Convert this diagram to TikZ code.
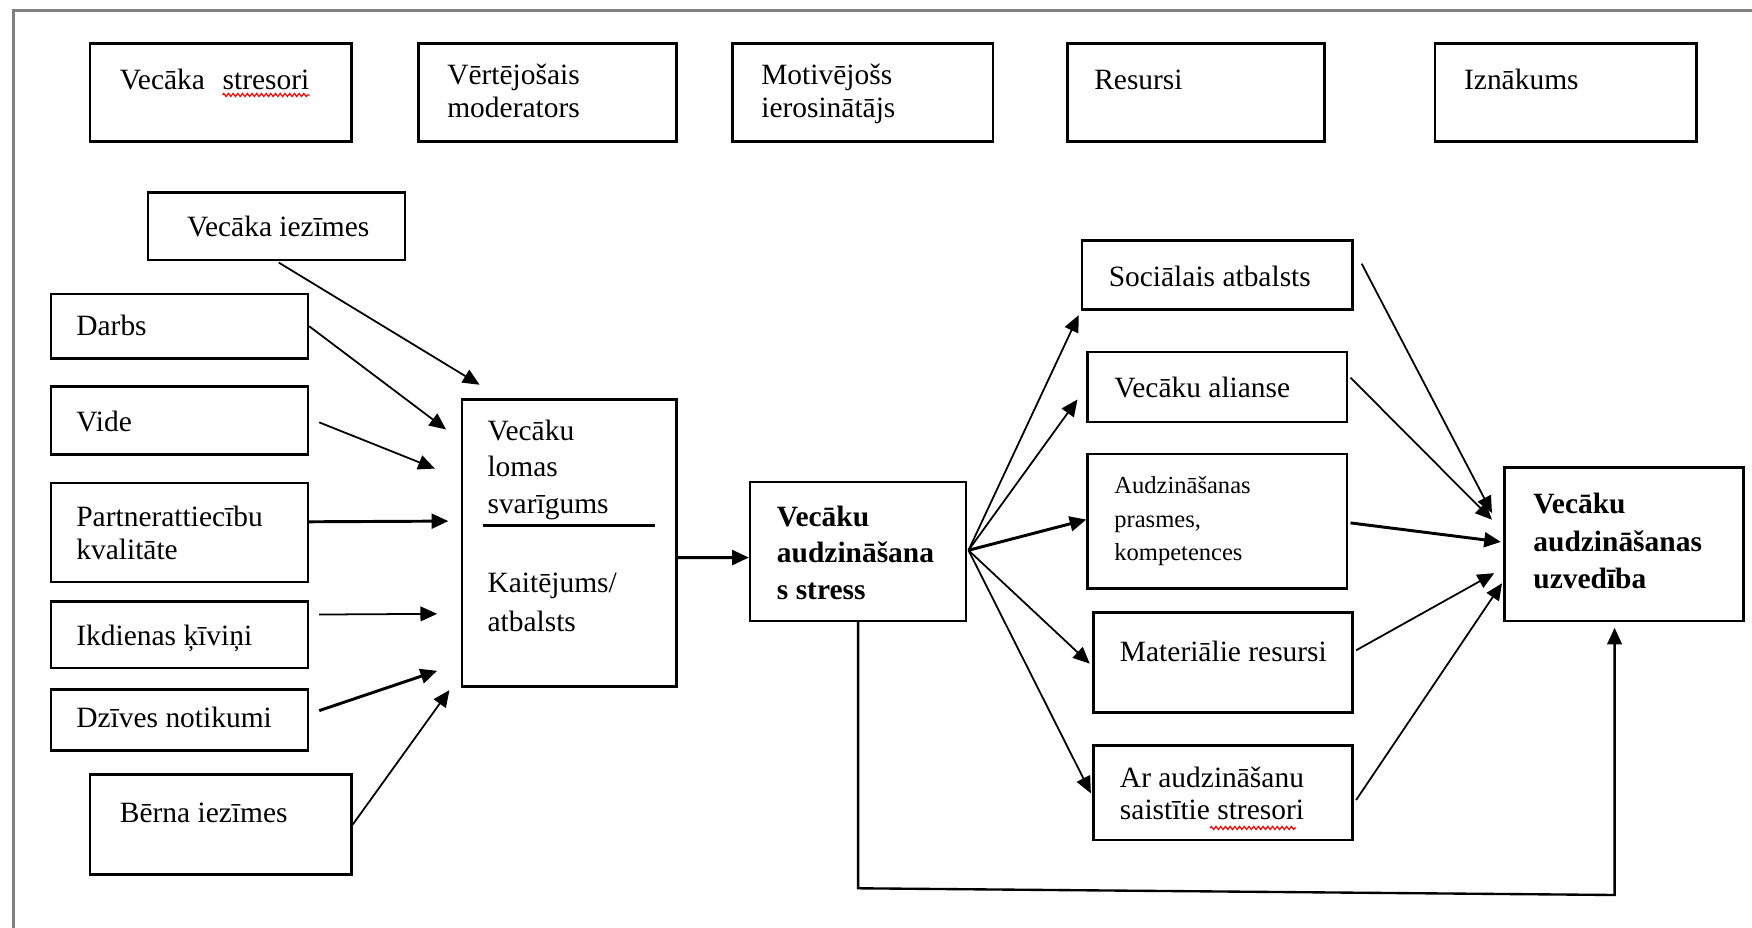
\documentclass[tikz,border=0pt]{standalone}
\usepackage{fontspec}
\setmainfont{Liberation Serif}
\usetikzlibrary{arrows.meta,calc,decorations.pathmorphing}
\newcommand\mlines[3][15pt]{{\fontsize{#1}{#2}\selectfont\begin{tabular}[t]{@{}l@{}}#3\end{tabular}}}
\begin{document}
\begin{tikzpicture}[x=0.02cm,y=-0.02cm,
  box/.style n args={4}{draw, line width=1.3pt, inner sep=0pt,
    minimum width={(#3-#1)*0.56693pt}, minimum height={(#4-#2)*0.56693pt},
    at={({(#1+#3)/2},{(#2+#4)/2})}},
  txt/.style={inner sep=0pt, anchor=base west, font=\fontsize{15}{18.7}\selectfont},
  arr/.style={-{Triangle[length=8.5pt,width=7.5pt]}, line width=0.9pt},
  thick arr/.style={arr, line width=1.5pt},
  squig/.style={red, line width=0.6pt, decorate, decoration={zigzag, amplitude=0.8pt, segment length=2.4pt}}
]
\useasboundingbox (0,0) rectangle (1568,830);
\draw[color={rgb,255:red,128;green,128;blue,128}, line width=1.5pt] (12,840) -- (12,9.4) -- (1580,9.4);

% top row
\node[box={80}{39}{315}{127}] (tstr) {};
\node[box={374}{39}{606}{127}] (tmod) {};
\node[box={655}{39}{889}{127}] (tmot) {};
\node[box={955}{39}{1186}{127}] (tres) {};
\node[box={1284}{39}{1519}{127}] (tizn) {};
\node[txt] (ttstr) at (107,80) {Vecāka\hspace{0.6em}stresori};
\node[txt] (ttmod) at (400,76) {\mlines{16.4pt}{Vērtējošais\\moderators}};
\node[txt] (ttmot) at (681,76) {\mlines{16.4pt}{Motivējošs\\ierosinātājs}};
\node[txt] (ttres) at (979,80) {Resursi};
\node[txt] (ttizn) at (1310,80) {Iznākums};
\draw[squig] ($(ttstr.base east)+(-78,5)$) -- ($(ttstr.base east)+(0,5)$);

% left column
\node[box={132}{172}{363}{233}] (piez) {};
\node[box={45}{263}{276}{321}] (darbs) {};
\node[box={45}{346}{276}{407}] (vide) {};
\node[box={45}{432}{276}{521}] (partn) {};
\node[box={45}{538}{276}{598}] (ikd) {};
\node[box={45}{617}{276}{672}] (dziv) {};
\node[box={80}{693}{315}{783}] (bern) {};
\node[txt, anchor=base] (tpiez) at (249,212) {Vecāka iezīmes};
\node[txt] (tdarbs) at (68,300) {Darbs};
\node[txt] (tvide) at (68,386) {Vide};
\node[txt] (tpartn) at (68,471) {\mlines{17pt}{Partnerattiecību\\kvalitāte}};
\node[txt] (tikd) at (68,578) {Ikdienas ķīviņi};
\node[txt] (tdziv) at (68,651) {Dzīves notikumi};
\node[txt] (tbern) at (107,736) {Bērna iezīmes};

% middle
\node[box={413}{357}{606}{615}] (lomas) {};
\node[txt] (tlomas) at (436,394) {\mlines{18.7pt}{Vecāku\\lomas\\svarīgums}};
\draw[line width=1.1pt] ($(lomas.north west)+(20,114)$) coordinate (rl) -- ($(lomas.north east)+(-21,114)$) coordinate (rr);
\node[txt] (tkait) at (436,530) {\mlines{19.8pt}{Kaitējums/\\atbalsts}};
\node[box={671}{431}{865}{556}] (stress) {};
\node[txt] (tstress) at (695,471) {\mlines{18.7pt}{\bfseries Vecāku\\\bfseries audzināšana\\\bfseries s stress}};

% right column
\node[box={968}{215}{1211}{277}] (soc) {};
\node[box={973}{315}{1206}{378}] (ali) {};
\node[box={973}{406}{1206}{527}] (audz) {};
\node[box={978}{548}{1211}{638}] (mat) {};
\node[box={978}{667}{1211}{752}] (ar) {};
\node[box={1346}{418}{1561}{556}] (uzv) {};
\node[txt] (tsoc) at (992,256) {Sociālais atbalsts};
\node[txt] (tali) at (997,356) {Vecāku alianse};
\node[txt] (taudz) at (997,442) {\mlines[12.5pt]{17pt}{Audzināšanas\\prasmes,\\kompetences}};
\node[txt] (tmat) at (1002,592) {Materiālie resursi};
\node[txt] (tar) at (1002,705) {\mlines{16.4pt}{Ar audzināšanu\\saistītie stresori}};
\draw[squig] (1083,741) -- (1160,741);
\node[txt] (tuzv) at (1372,460) {\mlines{18.9pt}{\bfseries Vecāku\\\bfseries audzināšanas\\\bfseries uzvedība}};

% arrows into lomas
\draw[arr] ($(piez.south)+(2,1)$) -- ($(lomas.north west)+(17,-12)$);
\draw[arr] (darbs.east) -- ($(lomas.north west)+(-13,28)$);
\draw[arr] ($(vide.east)+(9,1.5)$) -- ($(lomas.north west)+(-23,63)$);
\draw[thick arr] ($(partn.east)+(0,-9.5)$) -- ($(lomas.north west)+(-11,110)$);
\draw[arr] ($(ikd.east)+(9,-18)$) -- ($(lomas.north west)+(-21,193)$);
\draw[thick arr] ($(dziv.east)+(9,-8.5)$) -- ($(lomas.north west)+(-21,244)$);
\draw[arr] ($(bern.east)$) -- ($(lomas.south west)+(-10,2)$);
\draw[thick arr] ($(lomas.east)+(0,13)$) -- ($(stress.west)+(0,5.5)$);

% fan out of stress
\coordinate (fan) at ($(stress.east)+(1,-1)$);
\draw[arr] (fan) -- ($(soc.south west)+(-2,4)$);
\draw[arr] (fan) -- ($(ali.west)+(-8,11)$);
\draw[thick arr] (fan) -- ($(audz.west)+(0,-1.5)$);
\draw[arr] (fan) -- ($(mat.west)+(-2,1)$);
\draw[arr] (fan) -- ($(ar.west)+(-1,0.5)$);

% into uzv
\draw[arr] ($(soc.east)+(7,-10)$) -- ($(uzv.north west)+(-10,42)$);
\draw[arr] ($(ali.east)+(2,-8.5)$) -- ($(uzv.north west)+(-10,48)$);
\draw[thick arr] ($(audz.east)+(2,1.5)$) -- ($(uzv.west)+(-2,-2)$);
\draw[arr] ($(mat.east)+(2,-11)$) -- ($(uzv.west)+(-8,26)$);
\draw[arr] ($(ar.east)+(2,6.5)$) -- ($(uzv.west)+(-1,35)$);

% feedback
\coordinate (fb1) at (768,795);
\coordinate (fb2) at (1445,801);
\draw[arr, line width=1.2pt] (stress.south) -- (fb1) -- (fb2) -- ($(uzv.south)+(-8.5,5)$);
\end{tikzpicture}
\end{document}
